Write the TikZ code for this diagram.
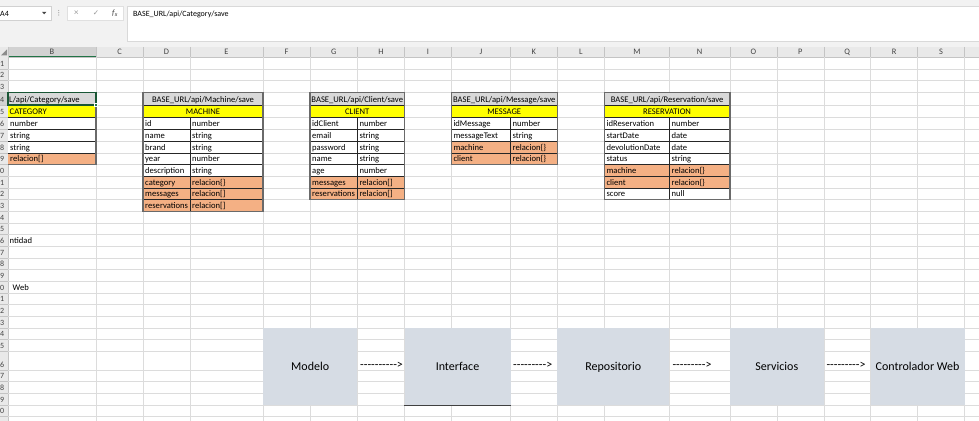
\documentclass[tikz,border=0pt]{standalone}
\usepackage{fontspec}
\setmainfont{Carlito}
\newfontfamily\symfont{DejaVu Sans}
\usetikzlibrary{calc,fit}

\definecolor{gridgray}{HTML}{DCDCDC}
\definecolor{hdrband}{HTML}{E9E9E9}
\definecolor{hdrsel}{HTML}{D2D2D2}
\definecolor{hdrline}{HTML}{C4C4C4}
\definecolor{barbg}{HTML}{F2F2F2}
\definecolor{excelgreen}{HTML}{217346}
\definecolor{urlgray}{HTML}{D9D9D9}
\definecolor{titleyellow}{HTML}{FFFF00}
\definecolor{relorange}{HTML}{F4B084}
\definecolor{tableedge}{HTML}{6A6A6A}
\definecolor{layerfill}{HTML}{D6DCE4}
\definecolor{labelgray}{HTML}{444444}

\tikzset{
  gridline/.style={draw=gridgray, line width=0.6pt},
  innerline/.style={draw=black!85, line width=0.6pt},
  outerline/.style={draw=tableedge, line width=1.4pt},
  celltext/.style={anchor=base west, inner sep=0pt, font=\fontsize{8.6pt}{10pt}\selectfont},
  centertext/.style={anchor=base, inner sep=0pt, font=\fontsize{8.6pt}{10pt}\selectfont},
  hdrtext/.style={anchor=base, inner sep=0pt, text=labelgray, font=\fontsize{8.4pt}{10pt}\selectfont},
  rowtext/.style={anchor=base east, inner sep=0pt, text=labelgray, font=\fontsize{8pt}{10pt}\selectfont},
  bartext/.style={anchor=base west, inner sep=0pt, font=\fontsize{8pt}{10pt}\selectfont},
  layerbox/.style={fill=layerfill, inner sep=0pt},
  layerlabel/.style={anchor=base, inner sep=0pt, font=\fontsize{12pt}{14pt}\selectfont},
  arrowtext/.style={anchor=base west, inner sep=0pt, font=\fontsize{12pt}{14pt}\selectfont},
}

% One entity table: endpoint row, name row and field rows with a name and a type column.
% #1 prefix, #2/#3/#4 left/middle/right column, #5 row below the table,
% #6 endpoint, #7 entity name, #8 fields as row/name/type/fill
\newcommand\entitytable[8]{%
  \fill[urlgray] (#2|-r4) rectangle (#4|-r5);
  \fill[titleyellow] (#2|-r5) rectangle (#4|-r6);
  \foreach \rowno/\fname/\ftype/\fcol in {#8}{%
    \pgfmathtruncatemacro\rownext{\rowno+1}%
    \fill[\fcol] (#2|-r\rowno) rectangle (#4|-r\rownext);
    \draw[innerline] (#2|-r\rowno) -- (#4|-r\rowno);
    \node[celltext, xshift=2pt, yshift=3pt] (#1-name-\rowno) at (#2|-r\rownext) {\fname};
    \node[celltext, xshift=2pt, yshift=3pt] (#1-type-\rowno) at (#3|-r\rownext) {\ftype};
  }
  \draw[innerline] (#2|-r5) -- (#4|-r5);
  \draw[innerline] (#3|-r6) -- (#3|-#5);
  \draw[outerline] (#2|-r4) rectangle (#4|-#5);
  \node[centertext, yshift=3pt] (#1-url) at ($(#2|-r5)!.5!(#4|-r5)$) {#6};
  \node[centertext, yshift=3pt] (#1-title) at ($(#2|-r6)!.5!(#4|-r6)$) {#7};
}

\begin{document}
\begin{tikzpicture}[x=1pt, y=-1pt]
\useasboundingbox (0,0) rectangle (979,420);
\clip (0,0) rectangle (979,420);

% column edges and row tops of the sheet
\foreach \c/\x in {B/8, C/96, D/143, E/190, F/263, G/310, H/357.3, I/404.5, J/451.3,
    K/510.5, L/557.2, M/604.4, N/669.4, O/729.8, P/777, Q/823.8, R/870.6, S/917.7,
    T/964.5, End/979}
  \coordinate (c\c) at (\x,0);
\foreach \r/\y in {0/47, 1/57.3, 2/69.3, 3/80.7, 4/92.3, 5/105, 6/117.3, 7/129, 8/141.3,
    9/153, 10/164.7, 11/176.3, 12/188, 13/199.7, 14/211.3, 15/223, 16/234.7, 17/246.3,
    18/258, 19/269.7, 20/281.3, 21/293, 22/304.7, 23/316.3, 24/328, 25/339.7, 26/351.3,
    27/370, 28/381.7, 29/393.3, 30/405, 31/416.7, 32/428.3}
  \coordinate (r\r) at (0,\y);

% formula bar
\fill[barbg] (0,0) rectangle (979,47);
\path[fill=white, draw=black!18] (-1,6.7) rectangle (51,20.3);
\node[bartext] (namebox) at (0,16.3) {A4};
\fill[labelgray] (42,11.8) -- (46.4,11.8) -- (44.2,14.3) -- cycle;
\foreach \yy in {10.6,12.8,15} \fill[black!35] (58.7,\yy) circle (0.6);
\path[fill=white, draw=black!12] (66.7,6.7) rectangle (123.3,20.3);
\node[anchor=center, inner sep=0pt, text=black!40, font=\fontsize{9pt}{10pt}\selectfont] (cancel) at (76.3,13.5) {×};
\node[anchor=center, inner sep=0pt, text=black!40, font=\symfont\fontsize{7.5pt}{9pt}\selectfont] (enter) at (96,13.5) {✓};
\node[anchor=center, inner sep=0pt, text=black!75, font=\fontsize{8pt}{10pt}\selectfont] (fx) at (115,13.3) {\textit{f}\textsubscript{\textit{x}}};
\path[fill=white, draw=black!15] (127.3,6.7) rectangle (990,41);
\node[bartext] (formula) at (133,16.3) {BASE\_URL/api/Category/save};

% column headings
\fill[hdrband] (r0) rectangle (cEnd|-r1);
\fill[hdrsel] (cB|-r0) rectangle (cC|-r1);
\foreach \c in {B,C,D,E,F,G,H,I,J,K,L,M,N,O,P,Q,R,S,T}
  \draw[hdrline, line width=0.5pt] (c\c|-r0) -- (c\c|-r1);
\draw[hdrline, line width=0.6pt] (r1) -- (cEnd|-r1);
\draw[excelgreen, line width=1.3pt] (8,56.6) -- (96,56.6);
\foreach \l/\x in {B/52, C/119.5, D/166.5, E/226.5, F/286.5, G/333.7, H/380.9, I/427.9,
    J/480.9, K/533.9, L/580.8, M/636.9, N/699.6, O/753.4, P/800.4, Q/847.2, R/894.2, S/941.1}
  \node[hdrtext] (col\l) at (\x,55) {\l};
\fill[black!45] (7,49.5) -- (7,55.5) -- (1,55.5) -- cycle;

% row headings, cut by the left edge of the window
\fill[hdrband] (r1) rectangle (cB|-r32);
\fill[hdrsel] (r4) rectangle (cB|-r5);
\foreach \r in {1,...,31}{
  \pgfmathtruncatemacro\rownext{\r+1}
  \draw[hdrline, line width=0.5pt] (r\rownext) -- (cB|-r\rownext);
}
\foreach \r in {1,...,30}{
  \pgfmathtruncatemacro\rownext{\r+1}
  \pgfmathtruncatemacro\digit{mod(\r,10)}
  \node[rowtext, xshift=4.4pt, yshift=3pt] (rownum\r) at (r\rownext) {\digit};
}
\draw[hdrline, line width=0.7pt] (cB|-r0) -- (cB|-r32);

% cell grid
\foreach \c in {C,D,E,F,G,H,I,J,K,L,M,N,O,P,Q,R,S,T}
  \draw[gridline] (c\c|-r1) -- (c\c|-r32);
\foreach \r in {2,...,32}
  \draw[gridline] (cB|-r\r) -- (cEnd|-r\r);

% CATEGORY table, its name column lies left of the window
\fill[urlgray] (cB|-r4) rectangle (cC|-r5);
\fill[titleyellow] (cB|-r5) rectangle (cC|-r6);
\fill[white] (cB|-r6) rectangle (cC|-r9);
\fill[relorange] (cB|-r9) rectangle (cC|-r10);
\foreach \r in {5,...,9}
  \draw[innerline] (cB|-r\r) -- (cC|-r\r);
\draw[outerline] (cB|-r4) -- (cC|-r4) -- (cC|-r10) -- (cB|-r10);
\draw[excelgreen!75!black, line width=1.3pt] (cB|-r4) rectangle (cC|-r5);
\path[fill=excelgreen, draw=white, line width=0.5pt] (94.3,103.3) rectangle (97.7,106.7);
\node[celltext, xshift=1pt, yshift=3pt] (category-url) at (cB|-r5) {L/api/Category/save};
\node[celltext, xshift=1.5pt, yshift=3pt] (category-title) at (cB|-r6) {CATEGORY};
\node[celltext, xshift=2pt, yshift=3pt] (category-type-6) at (cB|-r7) {number};
\node[celltext, xshift=2pt, yshift=3pt] (category-type-7) at (cB|-r8) {string};
\node[celltext, xshift=2pt, yshift=3pt] (category-type-8) at (cB|-r9) {string};
\node[celltext, xshift=2pt, yshift=3pt] (category-type-9) at (cB|-r10) {relacion[]};

% other entity tables
\entitytable{machine}{cD}{cE}{cF}{r14}{BASE\_URL/api/Machine/save}{MACHINE}{%
  6/id/number/white, 7/name/string/white, 8/brand/string/white, 9/year/number/white,
  10/description/string/white, 11/category/relacion\{\}/relorange,
  12/messages/relacion[]/relorange, 13/reservations/relacion[]/relorange}
\entitytable{client}{cG}{cH}{cI}{r13}{BASE\_URL/api/Client/save}{CLIENT}{%
  6/idClient/number/white, 7/email/string/white, 8/password/string/white,
  9/name/string/white, 10/age/number/white, 11/messages/relacion[]/relorange,
  12/reservations/relacion[]/relorange}
\entitytable{message}{cJ}{cK}{cL}{r10}{BASE\_URL/api/Message/save}{MESSAGE}{%
  6/idMessage/number/white, 7/messageText/string/white,
  8/machine/relacion\{\}/relorange, 9/client/relacion\{\}/relorange}
\entitytable{reservation}{cM}{cN}{cO}{r13}{BASE\_URL/api/Reservation/save}{RESERVATION}{%
  6/idReservation/number/white, 7/startDate/date/white, 8/devolutionDate/date/white,
  9/status/string/white, 10/machine/relacion\{\}/relorange,
  11/client/relacion\{\}/relorange, 12/score/null/white}

% loose notes in column B
\node[celltext, xshift=1.5pt, yshift=3pt] (note16) at (cB|-r17) {ntidad};
\node[celltext, xshift=4.5pt, yshift=3pt] (note20) at (cB|-r21) {Web};

% application layers
\node[layerbox, fit=(cF|-r24) (cH|-r30)] (modelo) {};
\node[layerbox, fit=(cI|-r24) (cK|-r30)] (interface) {};
\node[layerbox, fit=(cL|-r24) (cN|-r30)] (repositorio) {};
\node[layerbox, fit=(cO|-r24) (cQ|-r30)] (servicios) {};
\node[layerbox, fit=(cR|-r24) (cT|-r30)] (controlador) {};
\draw[black!75, line width=1.2pt] (interface.south west) -- (interface.south east);
\node[layerlabel, yshift=-4.4pt] (modelo-text) at (modelo.center) {Modelo};
\node[layerlabel, yshift=-4.4pt] (interface-text) at (interface.center) {Interface};
\node[layerlabel, yshift=-4.4pt] (repositorio-text) at (repositorio.center) {Repositorio};
\node[layerlabel, yshift=-4.4pt] (servicios-text) at (servicios.center) {Servicios};
\node[layerlabel, yshift=-4.4pt] (controlador-text) at (controlador.center) {Controlador Web};

% typed arrows between the layers
\node[arrowtext, xshift=2.7pt, yshift=2pt] (arrow1) at (cH|-r27) {-{}-{}-{}-{}-{}-{}-{}-{}-{}-{}>};
\node[arrowtext, xshift=2.5pt, yshift=2pt] (arrow2) at (cK|-r27) {-{}-{}-{}-{}-{}-{}-{}-{}-{}>};
\node[arrowtext, xshift=2.9pt, yshift=2pt] (arrow3) at (cN|-r27) {-{}-{}-{}-{}-{}-{}-{}-{}-{}>};
\node[arrowtext, xshift=2.5pt, yshift=2pt] (arrow4) at (cQ|-r27) {-{}-{}-{}-{}-{}-{}-{}-{}-{}>};
\end{tikzpicture}
\end{document}
